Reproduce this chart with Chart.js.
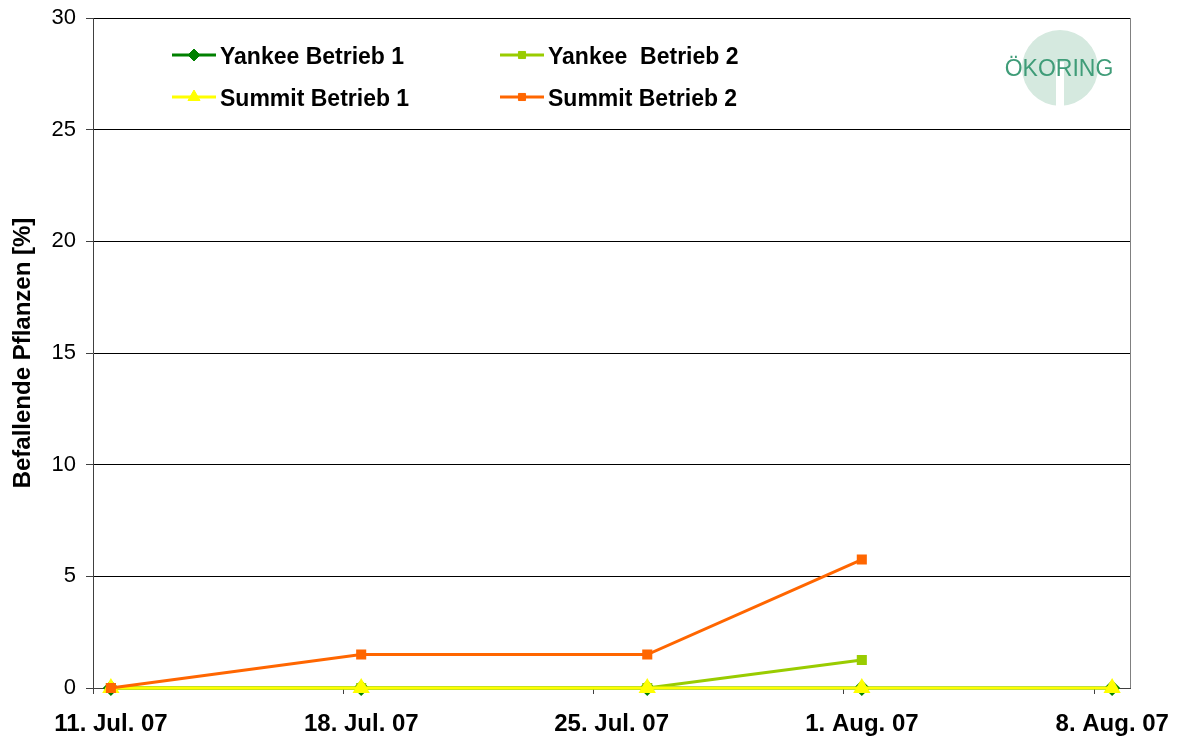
<!DOCTYPE html>
<html>
<head>
<meta charset="utf-8">
<script src="https://cdn.jsdelivr.net/npm/chart.js@4.4.0/dist/chart.umd.min.js"></script>
<style>
  html, body { margin: 0; padding: 0; background: #fff; }
  #wrap { width: 1179px; height: 738px; }
</style>
</head>
<body>
<div id="wrap"><canvas id="mycanvas"></canvas></div>
<script>
// data
var startDate = '2007-07-11';
var dates = ['2007-07-11', '2007-07-18', '2007-07-26', '2007-08-01', '2007-08-08'];
var yankee1 = [0, 0, 0, 0, 0];
var yankee2 = [0, 0, 0, 1.25, null];
var summit1 = [0, 0, 0, 0, 0];
var summit2 = [0, 1.5, 1.5, 5.75, null];
var xTickDates = ['2007-07-11', '2007-07-18', '2007-07-25', '2007-08-01', '2007-08-08'];
var xTickLabels = ['11. Jul. 07', '18. Jul. 07', '25. Jul. 07', '1. Aug. 07', '8. Aug. 07'];

var FONT = "'Liberation Sans', Arial, sans-serif";

function dayOf(s) {
  return Math.round((Date.parse(s) - Date.parse(startDate)) / 86400000);
}
function pts(vals) {
  var out = [];
  for (var i in vals) {
    if (vals[i] !== null) out.push({x: dayOf(dates[i]), y: vals[i]});
  }
  return out;
}

// legend drawn inside the plot, two columns like the original
var legendPlugin = {
  id: 'boxLegend',
  afterDraw: function(chart) {
    var ctx = chart.ctx;
    var cols = [172, 500];
    var rows = [55, 97];
    ctx.save();
    chart.data.datasets.forEach(function(ds, k) {
      var x = cols[k % 2], y = rows[Math.floor(k / 2)];
      ctx.strokeStyle = ds.borderColor;
      ctx.lineWidth = 3;
      ctx.beginPath();
      ctx.moveTo(x, y);
      ctx.lineTo(x + 44, y);
      ctx.stroke();
      ctx.fillStyle = ds.pointBackgroundColor;
      ctx.strokeStyle = ds.pointBorderColor;
      ctx.lineWidth = 1;
      Chart.helpers.drawPoint(ctx, {
        pointStyle: ds.pointStyle,
        radius: ds.pointRadius,
        borderWidth: 1
      }, x + 22, y);
      ctx.fillStyle = '#000';
      ctx.font = 'bold 23px ' + FONT;
      ctx.textBaseline = 'middle';
      ctx.fillText(ds.label, x + 48, y + 3);
    });

    // logo
    ctx.fillStyle = '#d5e9df';
    ctx.beginPath();
    ctx.arc(1060, 68, 38, 0, Math.PI * 2);
    ctx.fill();
    ctx.fillStyle = '#fff';
    ctx.fillRect(1056, 62, 8, 44);
    ctx.fillStyle = '#3f9c78';
    ctx.font = '23px ' + FONT;
    ctx.textAlign = 'center';
    ctx.textBaseline = 'middle';
    ctx.fillText('ÖKORING', 1059, 70);

    // right border of the plot
    var a = chart.chartArea;
    ctx.strokeStyle = '#808080';
    ctx.lineWidth = 1;
    ctx.beginPath();
    ctx.moveTo(Math.round(a.right) + 0.5, a.top);
    ctx.lineTo(Math.round(a.right) + 0.5, a.bottom);
    ctx.stroke();
    ctx.restore();
  }
};

var chartdata = {
  datasets: [
    {
      label: 'Yankee Betrieb 1',
      data: pts(yankee1),
      borderColor: '#008000',
      backgroundColor: '#008000',
      pointBackgroundColor: '#008000',
      pointBorderColor: '#008000',
      pointStyle: 'rectRot',
      pointRadius: 6,
      borderWidth: 3,
      clip: false,
      order: 3
    },
    {
      label: 'Yankee  Betrieb 2',
      data: pts(yankee2),
      borderColor: '#99cc00',
      backgroundColor: '#99cc00',
      pointBackgroundColor: '#99cc00',
      pointBorderColor: '#99cc00',
      pointStyle: 'rect',
      pointRadius: 5,
      borderWidth: 3,
      clip: false,
      order: 2
    },
    {
      label: 'Summit Betrieb 1',
      data: pts(summit1),
      borderColor: '#ffff00',
      backgroundColor: '#ffff00',
      pointBackgroundColor: '#ffff00',
      pointBorderColor: '#ffff00',
      pointStyle: 'triangle',
      pointRadius: 7,
      borderWidth: 3,
      clip: false,
      order: 1
    },
    {
      label: 'Summit Betrieb 2',
      data: pts(summit2),
      borderColor: '#ff6600',
      backgroundColor: '#ff6600',
      pointBackgroundColor: '#ff6600',
      pointBorderColor: '#ff6600',
      pointStyle: 'rect',
      pointRadius: 5,
      borderWidth: 3,
      clip: false,
      order: 0
    }
  ]
};

var ctx = document.getElementById('mycanvas');

var lineGraph = new Chart(ctx, {
  type: 'line',
  data: chartdata,
  plugins: [legendPlugin],
  options: {
    responsive: true,
    maintainAspectRatio: false,
    animation: false,
    layout: { padding: { top: 18, right: 49, left: 0, bottom: 0 } },
    plugins: {
      legend: { display: false },
      tooltip: { enabled: false }
    },
    elements: { line: { tension: 0 } },
    scales: {
      x: {
        type: 'linear',
        min: -0.5,
        max: dayOf(xTickDates[xTickDates.length - 1]) + 0.5,
        afterBuildTicks: function(scale) {
          scale.ticks = xTickDates.map(function(d) { return {value: dayOf(d) - 0.5}; });
        },
        afterFit: function(scale) { scale.height = 50; },
        grid: {
          drawOnChartArea: false,
          drawTicks: true,
          tickLength: 6,
          color: '#404040'
        },
        border: { color: '#404040' },
        ticks: {
          autoSkip: false,
          maxRotation: 0,
          labelOffset: 18,
          padding: 16,
          color: '#000',
          font: { family: FONT, size: 24, weight: 'bold' },
          callback: function(v, i) { return xTickLabels[i]; }
        }
      },
      y: {
        min: 0,
        max: 30,
        afterFit: function(scale) {
          scale.width = 93;
          scale.paddingTop = 0;
        },
        grid: {
          color: '#000',
          tickColor: '#404040',
          tickLength: 7
        },
        border: { color: '#404040' },
        ticks: {
          stepSize: 5,
          padding: 10,
          color: '#000',
          font: { family: FONT, size: 22 }
        },
        title: {
          display: true,
          text: 'Befallende Pflanzen [%]',
          color: '#000',
          padding: { top: 9, bottom: 0 },
          font: { family: FONT, size: 24, weight: 'bold' }
        }
      }
    }
  }
});
</script>
</body>
</html>
